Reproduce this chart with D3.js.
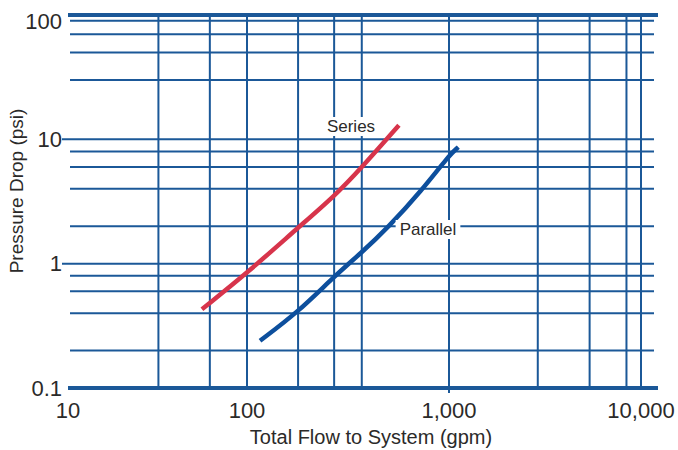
<!DOCTYPE html>
<html>
<head>
<meta charset="utf-8">
<script src="https://cdn.jsdelivr.net/npm/d3@7"></script>
<style>
  body { margin: 0; background: #fff; }
  svg { display: block; }
</style>
</head>
<body>
<div id="chart"></div>
<script>
// DATA
var xTicks       = [10, 100, 1000, 10000];
var xTickLabels  = ['10', '100', '1,000', '10,000'];
var xGrid        = [32, 62, 100, 179, 270, 370, 1000, 2900, 5400, 8400, 10000];
var yTicks       = [0.1, 1, 10, 100];
var yTickLabels  = ['0.1', '1', '10', '100'];
var yGrid        = [0.2, 0.4, 0.6, 0.8, 2, 4, 6, 8, 30, 50, 70, 90];
var seriesFlow   = [56, 100, 179, 270, 370, 565];
var seriesDrop   = [0.43, 0.84, 1.95, 3.47, 5.95, 13.0];
var parallelFlow = [116, 178, 270, 370, 500, 733, 1000, 1118];
var parallelDrop = [0.24, 0.405, 0.79, 1.23, 1.96, 3.88, 7.43, 8.66];

var width  = 678;
var height = 450;
var gridColor = '#1b5898';
var textColor = '#2b2a29';
var font = '"Liberation Sans", Arial, sans-serif';

// x axis of the original is not an even log scale, so map each decade
var xScale = d3.scaleLog()
  .domain(xTicks)
  .range([68, 247, 449, 641]);
var plotRight = 658;

var yScale = d3.scaleLog()
  .domain([0.1, 100])
  .range([388, 15]);

var svg = d3.select('#chart')
  .append('svg')
  .attr('width', width)
  .attr('height', height);

// horizontal minor grid
svg.append('g').selectAll('line')
  .data(yGrid)
  .enter().append('line')
  .attr('x1', 70)
  .attr('x2', 654)
  .attr('y1', function(d) { return yScale(d); })
  .attr('y2', function(d) { return yScale(d); })
  .attr('stroke', gridColor)
  .attr('stroke-width', 2);

// horizontal decade lines 1 and 10 (stick out as ticks)
svg.append('g').selectAll('line')
  .data([1, 10])
  .enter().append('line')
  .attr('x1', 62)
  .attr('x2', 654)
  .attr('y1', function(d) { return yScale(d); })
  .attr('y2', function(d) { return yScale(d); })
  .attr('stroke', gridColor)
  .attr('stroke-width', 2);

// vertical grid
svg.append('g').selectAll('line')
  .data(xGrid)
  .enter().append('line')
  .attr('x1', function(d) { return xScale(d); })
  .attr('x2', function(d) { return xScale(d); })
  .attr('y1', yScale(100))
  .attr('y2', function(d) { return d == 1000 ? yScale(0.1) + 5 : yScale(0.1); })
  .attr('stroke', gridColor)
  .attr('stroke-width', 2);

// thick top / bottom lines
svg.append('g').selectAll('line')
  .data([0.1, 100])
  .enter().append('line')
  .attr('x1', 68)
  .attr('x2', plotRight)
  .attr('y1', function(d) { return yScale(d); })
  .attr('y2', function(d) { return yScale(d); })
  .attr('stroke', gridColor)
  .attr('stroke-width', 4);

// curves
var line = d3.line()
  .x(function(d) { return xScale(d[0]); })
  .y(function(d) { return yScale(d[1]); })
  .curve(d3.curveBasis);

svg.append('path')
  .datum(d3.zip(seriesFlow, seriesDrop))
  .attr('d', line)
  .attr('fill', 'none')
  .attr('stroke', '#d7344b')
  .attr('stroke-width', 4.5);

svg.append('path')
  .datum(d3.zip(parallelFlow, parallelDrop))
  .attr('d', line)
  .attr('fill', 'none')
  .attr('stroke', '#0d4f9d')
  .attr('stroke-width', 4.5);

// curve labels with white boxes behind them
var labels = [
  { text: 'Series',   x: 351, y: 132 },
  { text: 'Parallel', x: 428, y: 235 }
];
var lab = svg.append('g').selectAll('g')
  .data(labels)
  .enter().append('g');
lab.append('text')
  .attr('x', function(d) { return d.x; })
  .attr('y', function(d) { return d.y; })
  .attr('text-anchor', 'middle')
  .attr('font-family', font)
  .attr('font-size', '17px')
  .attr('fill', textColor)
  .text(function(d) { return d.text; });
lab.each(function() {
  var g = d3.select(this);
  var bb = g.select('text').node().getBBox();
  g.insert('rect', 'text')
    .attr('x', bb.x - 4)
    .attr('y', bb.y)
    .attr('width', bb.width + 8)
    .attr('height', bb.height)
    .attr('fill', '#fff');
});

// y tick labels
svg.append('g').selectAll('text')
  .data(yTicks)
  .enter().append('text')
  .attr('x', 62)
  .attr('y', function(d) { return yScale(d); })
  .attr('dy', function(d) { return d == 100 ? '0.62em' : '0.35em'; })
  .attr('text-anchor', 'end')
  .attr('font-family', font)
  .attr('font-size', '22px')
  .attr('fill', textColor)
  .text(function(d, i) { return yTickLabels[i]; });

// x tick labels
svg.append('g').selectAll('text')
  .data(xTicks)
  .enter().append('text')
  .attr('x', function(d) { return xScale(d); })
  .attr('y', 418)
  .attr('text-anchor', 'middle')
  .attr('font-family', font)
  .attr('font-size', '22px')
  .attr('fill', textColor)
  .text(function(d, i) { return xTickLabels[i]; });

// axis titles
svg.append('text')
  .attr('x', 371)
  .attr('y', 444)
  .attr('text-anchor', 'middle')
  .attr('font-family', font)
  .attr('font-size', '20px')
  .attr('fill', textColor)
  .text('Total Flow to System (gpm)');

svg.append('text')
  .attr('transform', 'translate(23,191) rotate(-90)')
  .attr('text-anchor', 'middle')
  .attr('font-family', font)
  .attr('font-size', '19px')
  .attr('fill', textColor)
  .text('Pressure Drop (psi)');
</script>
</body>
</html>
